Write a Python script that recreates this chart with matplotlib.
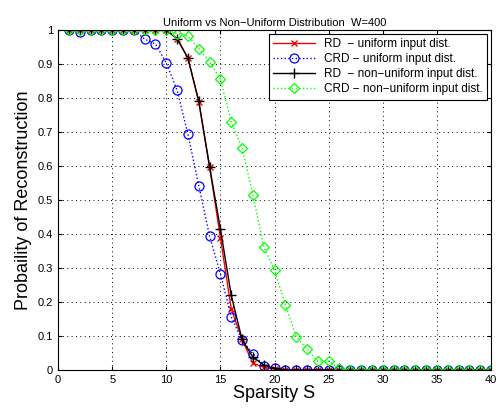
import matplotlib
matplotlib.use('Agg')
import matplotlib.pyplot as plt
import numpy as np

plt.rcParams['font.family'] = ['Liberation Sans', 'DejaVu Sans']

# 稀疏度
S = list(range(1, 41))

# RD 均匀分布
rd_uni = [1, 1, 1, 1, 1, 1, 1, 1, 1, 1,
          0.975, 0.918, 0.79, 0.598, 0.39, 0.18, 0.09, 0.02, 0.008, 0.003] + [0] * 20
# CRD 均匀分布
crd_uni = [1, 0.995, 1, 1, 1, 1, 1, 0.974, 0.959, 0.904,
           0.823, 0.694, 0.543, 0.394, 0.283, 0.157, 0.087, 0.048, 0.013, 0.005] + [0] * 20
# RD 非均匀分布
rd_non = [1, 1, 1, 1, 1, 1, 1, 1, 1, 1,
          0.975, 0.918, 0.791, 0.598, 0.415, 0.22, 0.09, 0.038, 0.015, 0.005] + [0] * 20
# CRD 非均匀分布
crd_non = [1, 1, 1, 1, 1, 1, 1, 1, 1, 1,
           0.99, 0.983, 0.946, 0.907, 0.856, 0.73, 0.654, 0.516, 0.363, 0.293,
           0.192, 0.098, 0.061, 0.026, 0.026, 0.005] + [0] * 14

fig = plt.figure(figsize=(4.96, 4.08), dpi=100)
ax = fig.add_axes([0.117, 0.093, 0.873, 0.833])

ax.plot(S, rd_uni, color='red', linestyle='-', marker='x', markersize=5, linewidth=1.0,
        markeredgewidth=1.0, label='RD  \u2212 uniform input dist.')
ax.plot(S, crd_uni, color='blue', linestyle=':', marker='o', markersize=6.5, linewidth=1.0,
        markeredgewidth=0.9, markerfacecolor='none', label='CRD \u2212 uniform input dist.')
ax.plot(S, rd_non, color='black', linestyle='-', marker='+', markersize=7, linewidth=1.0,
        markeredgewidth=1.0, label='RD  \u2212 non\u2212uniform input dist.')
ax.plot(S, crd_non, color='#00ff00', linestyle=':', marker='D', markersize=5.5, linewidth=1.0,
        markeredgewidth=0.9, markerfacecolor='none', label='CRD \u2212 non\u2212uniform input dist.')

ax.set_xlim(0, 40)
ax.set_ylim(0, 1)
ax.set_xticks(np.arange(0, 41, 5))
ax.set_yticks(np.arange(0, 1.01, 0.1))
ax.set_yticklabels(['0', '0.1', '0.2', '0.3', '0.4', '0.5', '0.6', '0.7', '0.8', '0.9', '1'])
ax.tick_params(direction='in', labelsize=8, top=True, right=True, length=3)
ax.grid(True, color='black', linestyle=(0, (1, 3.5)), linewidth=0.7)

ax.set_title('Uniform vs Non\u2212Uniform Distribution  W=400', fontsize=8, pad=3)
ax.set_xlabel('Sparsity S', fontsize=13, labelpad=0)
ax.set_ylabel('Probaility of Reconstruction', fontsize=13)

leg = ax.legend(loc='upper right', fontsize=8.5, fancybox=False, edgecolor='black',
                framealpha=1, borderaxespad=0.3, handlelength=3.5, labelspacing=0.25,
                borderpad=0.4)
leg.get_frame().set_linewidth(0.8)

plt.savefig('out.png', dpi=100)
